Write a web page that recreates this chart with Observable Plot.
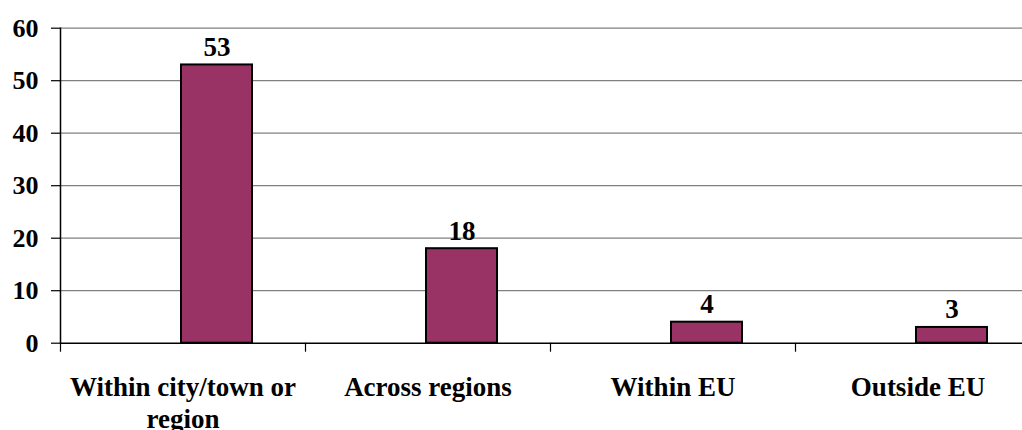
<!DOCTYPE html>
<html>
<head>
<meta charset="utf-8">
<script src="https://cdn.jsdelivr.net/npm/d3@7"></script>
<script src="https://cdn.jsdelivr.net/npm/@observablehq/plot@0.6"></script>
<style>
  html, body { margin: 0; padding: 0; background: #fff; }
  svg { display: block; }
</style>
</head>
<body>
<div id="chart"></div>
<script>
const categories = ["Within city/town or region", "Across regions", "Within EU", "Outside EU"];
const values = [53, 18, 4, 3];
const yTicks = [0, 10, 20, 30, 40, 50, 60];

const data = categories.map((c, i) => ({category: c, value: values[i]}));

const font = "'Liberation Serif', 'Times New Roman', serif";
const W = 1022, H = 430;
const mLeft = 60, mTop = 27.7, yBase = 342.7;
const band = 245;

const chart = Plot.plot({
  width: W,
  height: H,
  marginLeft: mLeft,
  marginRight: 0,
  marginTop: mTop,
  marginBottom: H - yBase,
  style: {fontFamily: font, background: "#fff", overflow: "hidden"},
  x: {type: "band", domain: categories, range: [mLeft, mLeft + band * categories.length], padding: 0},
  y: {domain: [0, 60], ticks: yTicks},
  marks: [
    Plot.gridY(yTicks.filter(d => d > 0), {stroke: "#808080", strokeOpacity: 1, strokeWidth: 1.2}),
    Plot.axisY({
      ticks: yTicks, tickSize: 9, tickPadding: 13, stroke: "#000", strokeWidth: 1.2,
      fontSize: 26, fontWeight: "bold", fontFamily: font, fill: "#000", label: null
    }),
    Plot.barY(data, {
      x: "category", y: "value", fill: "#993366", stroke: "#000", strokeWidth: 2,
      insetLeft: 121, insetRight: 53
    }),
    Plot.ruleY([0], {stroke: "#000", strokeWidth: 1.5}),
    Plot.frame({anchor: "left", stroke: "#000", strokeWidth: 1.5}),
    Plot.ruleX(categories, {x: d => d, y1: 0, y2: 0, insetBottom: -9, dx: -band / 2, stroke: "#000", strokeWidth: 1.2}),
    Plot.text(data, {
      x: "category", y: "value", text: d => String(d.value), dx: 34, dy: -9,
      lineAnchor: "bottom", textAnchor: "middle",
      fontSize: 27, fontWeight: "bold", fontFamily: font, fill: "#000"
    }),
    Plot.axisX({
      tickSize: 0, tickPadding: 30, label: null,
      tickFormat: d => d.replace(" or region", " or\nregion"),
      fontSize: 27, fontWeight: "bold", fontFamily: font, fill: "#000",
      lineHeight: 1.18, lineWidth: 40
    })
  ]
});
document.getElementById("chart").append(chart);
</script>
</body>
</html>
